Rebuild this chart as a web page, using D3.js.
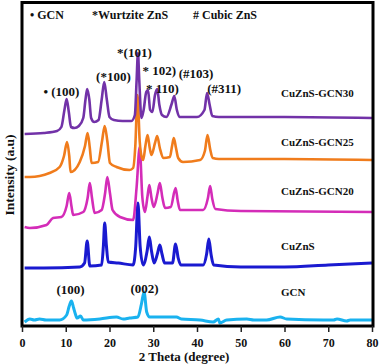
<!DOCTYPE html>
<html>
<head>
<meta charset="utf-8">
<script src="https://cdn.jsdelivr.net/npm/d3@7"></script>
<style>
  body { margin: 0; background: #fff; }
  text { font-family: "Liberation Serif", "Times New Roman", serif; font-weight: bold; fill: #111; }
</style>
</head>
<body>
<svg class="chart"></svg>
<script>
const width = 380, height = 364;
const margin = { top: 2, right: 8, bottom: 38, left: 22 };

// [2theta, intensity]
const gcn30 = [[0.6,192],[5,193],[8,195],[9,199],[9.7,216],[10.2,227],[10.7,214],[11.2,199],[12,198],[13,200],[14,208],[14.5,226],[14.9,237],[15.4,226],[15.8,208],[16.5,204],[17.5,206],[18.2,226],[18.8,244],[19.4,226],[20,209],[21,206],[23,205],[25,205],[25.8,211],[26.2,246],[26.5,273],[26.8,246],[27.3,208],[27.8,216],[28.4,234],[28.8,236],[29.3,216],[29.8,214],[30.4,231],[30.9,237],[31.4,221],[32,211],[33,209],[34.2,222],[34.8,230],[35.4,216],[36,209],[40,209],[41.7,216],[42.3,233],[42.9,221],[43.5,210],[45,209],[60,209],[80,208]];
const gcn25 = [[0.6,149],[1.8,149],[6.3,153],[8.6,159],[9.6,170],[10.3,184],[10.8,170],[11.1,154],[13.2,164],[14.4,180],[15.0,193],[15.5,178],[15.9,163],[17.4,164],[18.3,185],[18.9,200],[19.5,185],[20.1,163],[21.6,159],[24.6,156],[25.4,158],[25.9,180],[26.4,231],[26.9,185],[27.3,170],[27.7,166],[28.2,180],[28.7,191],[29.2,178],[29.6,171],[30.4,183],[30.9,190],[31.5,178],[32.3,168],[33.8,169],[34.3,180],[34.7,188],[35.2,178],[35.7,168],[36.8,164],[40.7,166],[41.8,175],[42.4,191],[43.0,177],[43.6,168],[45,167],[60,167],[80,166]];
const gcn20 = [[0.6,99],[1.8,98],[5.6,101],[7.1,108],[9.0,109],[10.2,120],[10.8,133],[11.3,120],[11.7,111],[14.0,114],[15.0,128],[15.5,143],[16.0,128],[16.6,113],[18.2,116],[19.0,133],[19.5,149],[20.1,133],[20.7,116],[22.4,109],[25.4,106],[26.2,139],[26.9,179],[27.5,129],[28.1,114],[28.7,130],[29.1,141],[29.6,128],[30.1,119],[31.0,133],[31.5,143],[32.1,128],[32.7,118],[34.0,119],[35.1,138],[35.6,125],[36.1,116],[41.4,116],[42.5,128],[43.0,140],[43.5,127],[44.2,117],[50,115],[80,114]];
const cuzns = [[0.6,58],[5,58],[13.2,59],[14.3,63],[14.9,85],[15.5,60],[18.2,61],[18.6,80],[18.9,103],[19.3,80],[19.7,64],[22,63],[25.4,61],[26.0,80],[26.5,123],[27.0,80],[27.7,61],[28.6,75],[29.1,89],[29.6,75],[30.2,63],[31.0,73],[31.5,81],[32.0,72],[32.6,63],[34.4,63],[35.1,82],[35.7,68],[36.3,61],[41.4,61],[42.2,72],[42.7,87],[43.2,72],[43.8,61],[50,59],[60,59],[70,61],[80,63]];
const gcn = [[0.6,4],[1.8,7],[2.8,6],[4,7],[5.5,6],[8.6,6],[10.2,11],[10.8,20],[11.3,25],[11.8,18],[12.2,12],[12.6,8],[13.4,10],[14,6],[17.8,7],[21.6,9],[23.1,7],[24.6,8],[26.5,9],[27.3,22],[27.9,34],[28.5,14],[29.2,9],[35.3,9],[36.4,7],[40.7,6],[43.7,4],[44.9,7],[45.2,3],[46.8,6],[51.4,7],[53,6],[55.9,6],[59,9],[60.5,7],[68.9,6],[71.2,6],[72,7],[74.2,5],[75,6],[80,6]];

const seriesNames = ["GCN", "CuZnS", "CuZnS-GCN20", "CuZnS-GCN25", "CuZnS-GCN30"];
const seriesData = [gcn, cuzns, gcn20, gcn25, gcn30];
const seriesColors = ["#1ab2ef", "#1a1ad0", "#d42cb8", "#f07c1c", "#7232a8"];
const seriesLabelY = [34, 80, 135, 184, 233];

const xTicks = [0, 10, 20, 30, 40, 50, 60, 70, 80];

// peak annotations: [text, 2theta, intensity]
const peakLabels = [
  ["• (100)", 9.0, 235],
  ["(*100)", 20.9, 250],
  ["*(101)", 25.7, 274],
  ["* 102)", 31.4, 256],
  ["(#103)", 39.8, 253],
  ["* 110)", 32.1, 238],
  ["(#311)", 46.2, 238],
  ["(100)", 11.1, 37],
  ["(002)", 28.0, 38]
];

const legendItems = ["• GCN", "*Wurtzite ZnS", "# Cubic ZnS"];
const legendX = [30, 92, 193];

let x = d3.scaleLinear()
  .domain([0, 80])
  .range([margin.left, width - margin.right]);
let y = d3.scaleLinear()
  .domain([0, 324])
  .range([height - margin.bottom, margin.top]);

let chart = d3.select(".chart")
  .attr("width", width)
  .attr("height", height);

let line = d3.line()
  .x(d => x(d[0]))
  .y(d => y(d[1]))
  .curve(d3.curveMonotoneX);

chart.append("g").selectAll("path")
  .data(seriesData)
  .enter().append("path")
  .attr("d", line)
  .attr("fill", "none")
  .attr("stroke", (d, i) => seriesColors[i])
  .attr("stroke-width", (d, i) => i < 2 ? 3 : 2.6)
  .attr("stroke-linejoin", "round");

// frame
chart.append("rect")
  .attr("x", x(0))
  .attr("y", y(324) + 0.5)
  .attr("width", x(80) - x(0) + 1)
  .attr("height", y(0) - y(324) - 0.5)
  .attr("fill", "none")
  .attr("stroke", "#000")
  .attr("stroke-width", 3);

let xAxis = d3.axisBottom(x)
  .tickValues(xTicks)
  .tickSize(6)
  .tickPadding(6);
let gx = chart.append("g")
  .attr("transform", `translate(0, ${y(0)})`)
  .call(xAxis);
gx.select(".domain").remove();
gx.selectAll(".tick line").attr("stroke", "#222").attr("stroke-width", 1.5);
gx.selectAll(".tick text")
  .style("font-family", "'Liberation Serif', serif")
  .style("font-weight", "bold")
  .style("font-size", "12px")
  .attr("fill", "#111");

chart.append("text")
  .attr("x", 184)
  .attr("y", 361)
  .attr("text-anchor", "middle")
  .style("font-size", "13px")
  .text("2 Theta (degree)");

chart.append("text")
  .attr("transform", "translate(14, 175) rotate(-90)")
  .attr("text-anchor", "middle")
  .style("font-size", "13.5px")
  .text("Intensity (a.u)");

chart.append("g").selectAll("text")
  .data(seriesNames)
  .enter().append("text")
  .attr("x", x(59.2))
  .attr("y", (d, i) => y(seriesLabelY[i]))
  .attr("dy", "0.35em")
  .style("font-size", "11px")
  .text(d => d);

chart.append("g").selectAll("text")
  .data(peakLabels)
  .enter().append("text")
  .attr("x", d => x(d[1]))
  .attr("y", d => y(d[2]))
  .attr("dy", "0.35em")
  .attr("text-anchor", "middle")
  .style("font-size", "13px")
  .text(d => d[0]);

chart.append("g").selectAll("text")
  .data(legendItems)
  .enter().append("text")
  .attr("x", (d, i) => legendX[i])
  .attr("y", 15)
  .attr("dy", "0.35em")
  .style("font-size", "12px")
  .text(d => d);
</script>
</body>
</html>
